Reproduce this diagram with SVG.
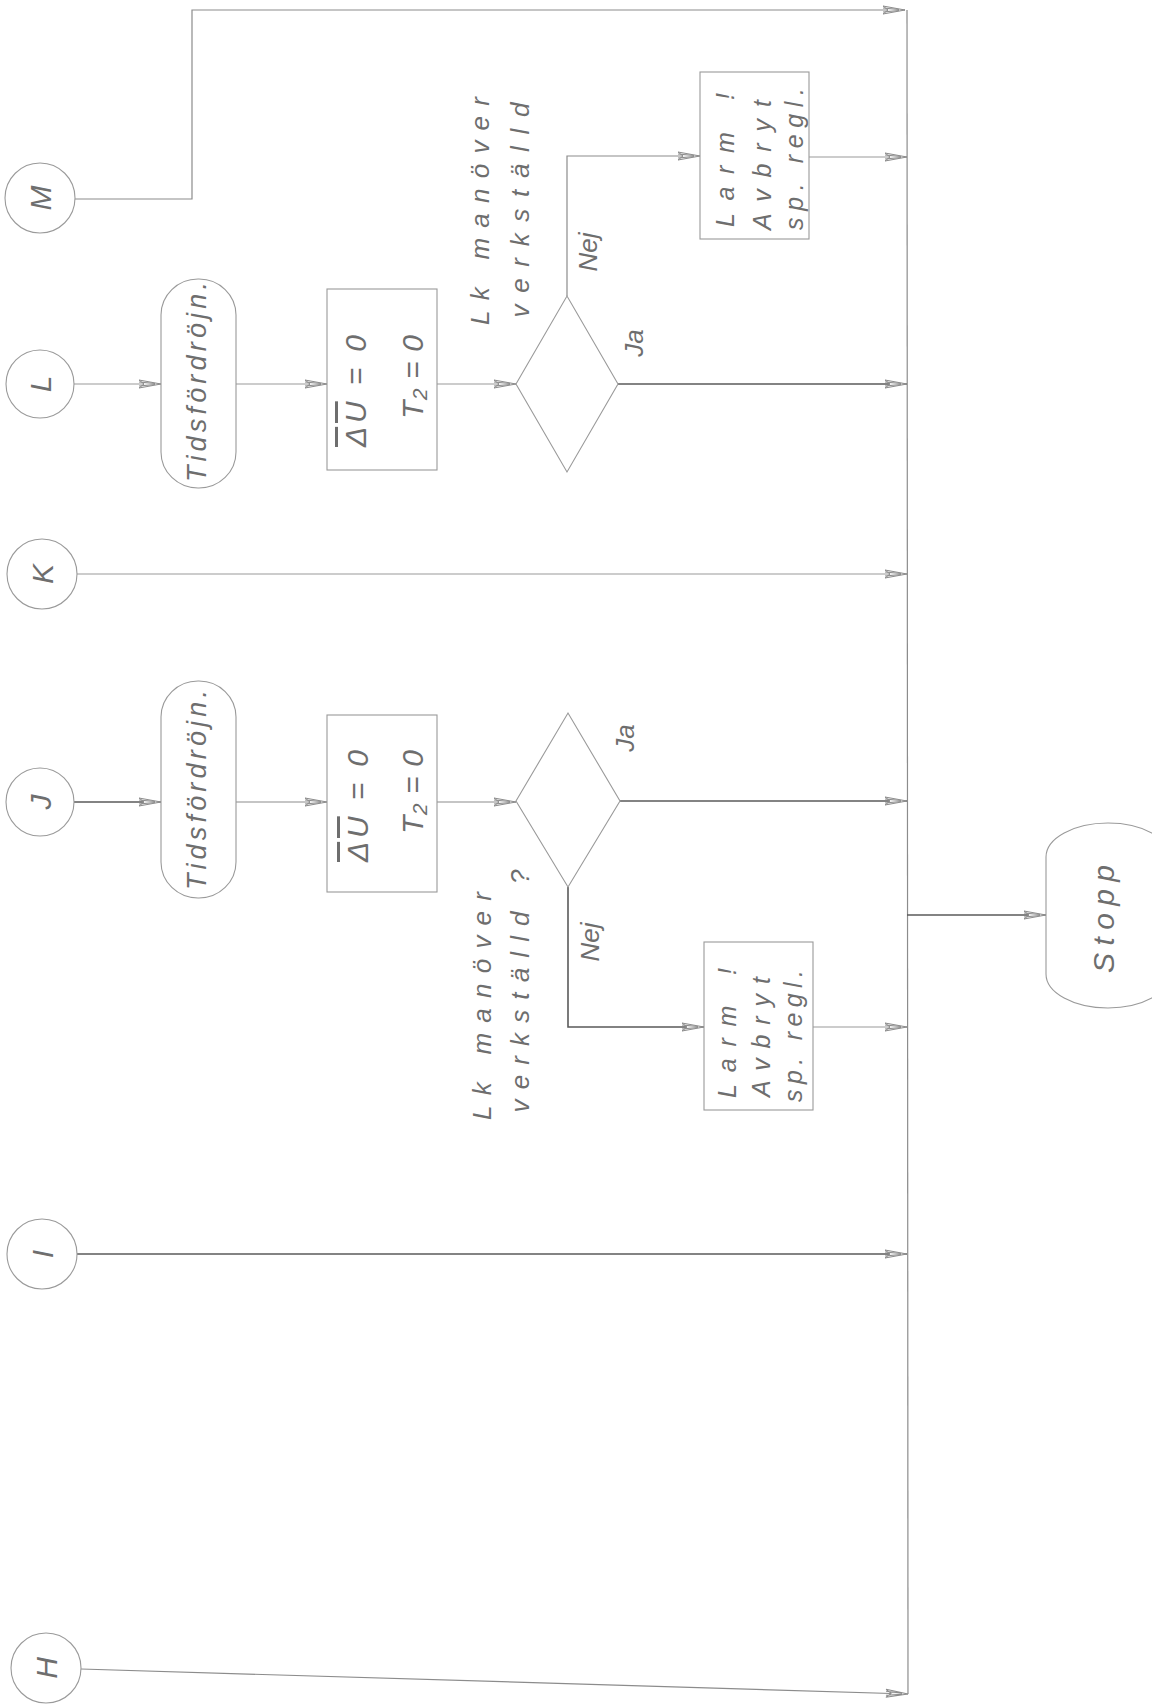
<svg xmlns="http://www.w3.org/2000/svg" width="1152" height="1705" viewBox="0 0 1152 1705">
<defs>
<style>
.ln{fill:none;stroke:#8c8c8c;stroke-width:1.2}
.dk{fill:none;stroke:#5a5a5a;stroke-width:1.6}
.sh{fill:none;stroke:#9a9a9a;stroke-width:1.1}
.tx{font-family:"Liberation Sans",Arial,sans-serif;font-style:italic;fill:#6e6e6e;text-anchor:middle;dominant-baseline:central}
</style>
<marker id="arr" markerUnits="userSpaceOnUse" markerWidth="28" markerHeight="12" viewBox="-26 -6 28 12" refX="0" refY="0" orient="auto">
<path d="M0,0 L-22,-4 L-17,0 L-22,4 Z M-22,-2 L-6,-0.5 M-22,2 L-6,0.5" fill="#f2f2f2" stroke="#8c8c8c" stroke-width="1"/>
</marker>
</defs>
<rect width="1152" height="1705" fill="#fff"/>

<g id="connectors">
<path class="ln" d="M75,199 L192,199 L192,10 L905,10" marker-end="url(#arr)"/>
<path class="ln" d="M907,10 L908,1694"/>
<!-- L row -->
<path class="sh" d="M74,384 L161,384" marker-end="url(#arr)"/>
<path class="sh" d="M236,384 L327,384" marker-end="url(#arr)"/>
<path class="sh" d="M437,384 L516,384" marker-end="url(#arr)"/>
<path class="ln" d="M567,296 L567,156 L700,156" marker-end="url(#arr)"/>
<path class="sh" d="M809,157 L907,157" marker-end="url(#arr)"/>
<path class="dk" d="M618,384 L907,384" marker-end="url(#arr)"/>
<!-- K row -->
<path class="sh" d="M77,574 L907,574" marker-end="url(#arr)"/>
<!-- J row -->
<path class="dk" d="M74,802 L161,802" marker-end="url(#arr)"/>
<path class="ln" d="M236,802 L327,802" marker-end="url(#arr)"/>
<path class="ln" d="M437,802 L516,802" marker-end="url(#arr)"/>
<path class="dk" d="M620,801 L907,801" marker-end="url(#arr)"/>
<path class="dk" d="M568,887 L568,1027 L704,1027" marker-end="url(#arr)"/>
<path class="sh" d="M813,1027 L907,1027" marker-end="url(#arr)"/>
<!-- Stopp -->
<path class="dk" d="M907,915 L1046,915" marker-end="url(#arr)"/>
<!-- I, H rows -->
<path class="dk" d="M77,1254 L907,1254" marker-end="url(#arr)"/>
<path class="ln" d="M81,1669 L908,1694" marker-end="url(#arr)"/>
</g>

<g id="node-M">
<circle class="sh" cx="40" cy="198" r="35"/>
<text class="tx" font-size="30" transform="translate(40,198) rotate(-90)">M</text>
</g>
<g id="node-L">
<circle class="sh" cx="40" cy="384" r="34"/>
<text class="tx" font-size="30" transform="translate(40,384) rotate(-90)">L</text>
</g>
<g id="node-K">
<circle class="sh" cx="42" cy="574" r="35"/>
<text class="tx" font-size="30" transform="translate(42,574) rotate(-90)">K</text>
</g>
<g id="node-J">
<circle class="sh" cx="40" cy="802" r="34"/>
<text class="tx" font-size="30" transform="translate(40,802) rotate(-90)">J</text>
</g>
<g id="node-I">
<circle class="sh" cx="42" cy="1254" r="35"/>
<text class="tx" font-size="30" transform="translate(42,1254) rotate(-90)">I</text>
</g>
<g id="node-H">
<circle class="sh" cx="46" cy="1668" r="35"/>
<text class="tx" font-size="30" transform="translate(46,1668) rotate(-90)">H</text>
</g>

<g id="delay-L">
<rect class="sh" x="161" y="279" width="75" height="209" rx="37" ry="36"/>
<text class="tx" font-size="27" textLength="200" lengthAdjust="spacing" transform="translate(197,382) rotate(-90)">Tidsfördröjn.</text>
</g>
<g id="reset-L">
<rect class="sh" x="327" y="289" width="110" height="181"/>
<text class="tx" font-size="30" textLength="112" lengthAdjust="spacing" style="text-anchor:end" transform="translate(355,335) rotate(-90)"><tspan style="text-decoration:overline">ΔU</tspan> = 0</text>
<text class="tx" font-size="30" textLength="84" lengthAdjust="spacing" style="text-anchor:end" transform="translate(412,335) rotate(-90)">T₂ = 0</text>
</g>
<g id="decision-L">
<path class="sh" d="M516,384 L567,296 L618,384 L567,472 Z"/>
<text class="tx" font-size="26" textLength="228" lengthAdjust="spacing" transform="translate(480,211) rotate(-90)">Lk manöver</text>
<text class="tx" font-size="26" textLength="215" lengthAdjust="spacing" transform="translate(520,210) rotate(-90)">verkställd</text>
<text class="tx" font-size="26" transform="translate(588,252) rotate(-90)">Nej</text>
<text class="tx" font-size="26" transform="translate(634,343) rotate(-90)">Ja</text>
</g>
<g id="alarm-L">
<rect class="sh" x="700" y="72" width="109" height="167"/>
<text class="tx" font-size="25" textLength="134" lengthAdjust="spacing" transform="translate(725,160) rotate(-90)">Larm !</text>
<text class="tx" font-size="25" textLength="130" lengthAdjust="spacing" transform="translate(762,165) rotate(-90)">Avbryt</text>
<text class="tx" font-size="25" textLength="142" lengthAdjust="spacing" transform="translate(794,159) rotate(-90)">sp. regl.</text>
</g>

<g id="delay-J">
<rect class="sh" x="161" y="681" width="75" height="217" rx="37" ry="36"/>
<text class="tx" font-size="27" textLength="200" lengthAdjust="spacing" transform="translate(197,790) rotate(-90)">Tidsfördröjn.</text>
</g>
<g id="reset-J">
<rect class="sh" x="327" y="715" width="110" height="177"/>
<text class="tx" font-size="30" textLength="112" lengthAdjust="spacing" style="text-anchor:end" transform="translate(357,750) rotate(-90)"><tspan style="text-decoration:overline">ΔU</tspan> = 0</text>
<text class="tx" font-size="30" textLength="84" lengthAdjust="spacing" style="text-anchor:end" transform="translate(412,750) rotate(-90)">T₂ = 0</text>
</g>
<g id="decision-J">
<path class="sh" d="M516,801 L568,713 L620,801 L568,887 Z"/>
<text class="tx" font-size="26" textLength="228" lengthAdjust="spacing" transform="translate(482,1006) rotate(-90)">Lk manöver</text>
<text class="tx" font-size="26" textLength="243" lengthAdjust="spacing" transform="translate(520,991) rotate(-90)">verkställd ?</text>
<text class="tx" font-size="26" transform="translate(590,942) rotate(-90)">Nej</text>
<text class="tx" font-size="26" transform="translate(625,738) rotate(-90)">Ja</text>
</g>
<g id="alarm-J">
<rect class="sh" x="704" y="942" width="109" height="168"/>
<text class="tx" font-size="25" textLength="130" lengthAdjust="spacing" transform="translate(727,1033) rotate(-90)">Larm !</text>
<text class="tx" font-size="25" textLength="120" lengthAdjust="spacing" transform="translate(761,1037) rotate(-90)">Avbryt</text>
<text class="tx" font-size="25" textLength="132" lengthAdjust="spacing" transform="translate(793,1036) rotate(-90)">sp. regl.</text>
</g>

<g id="stop">
<rect class="sh" x="1046" y="823" width="124" height="185" rx="62" ry="34"/>
<text class="tx" font-size="30" textLength="108" lengthAdjust="spacing" transform="translate(1103,919) rotate(-90)">Stopp</text>
</g>
</svg>
